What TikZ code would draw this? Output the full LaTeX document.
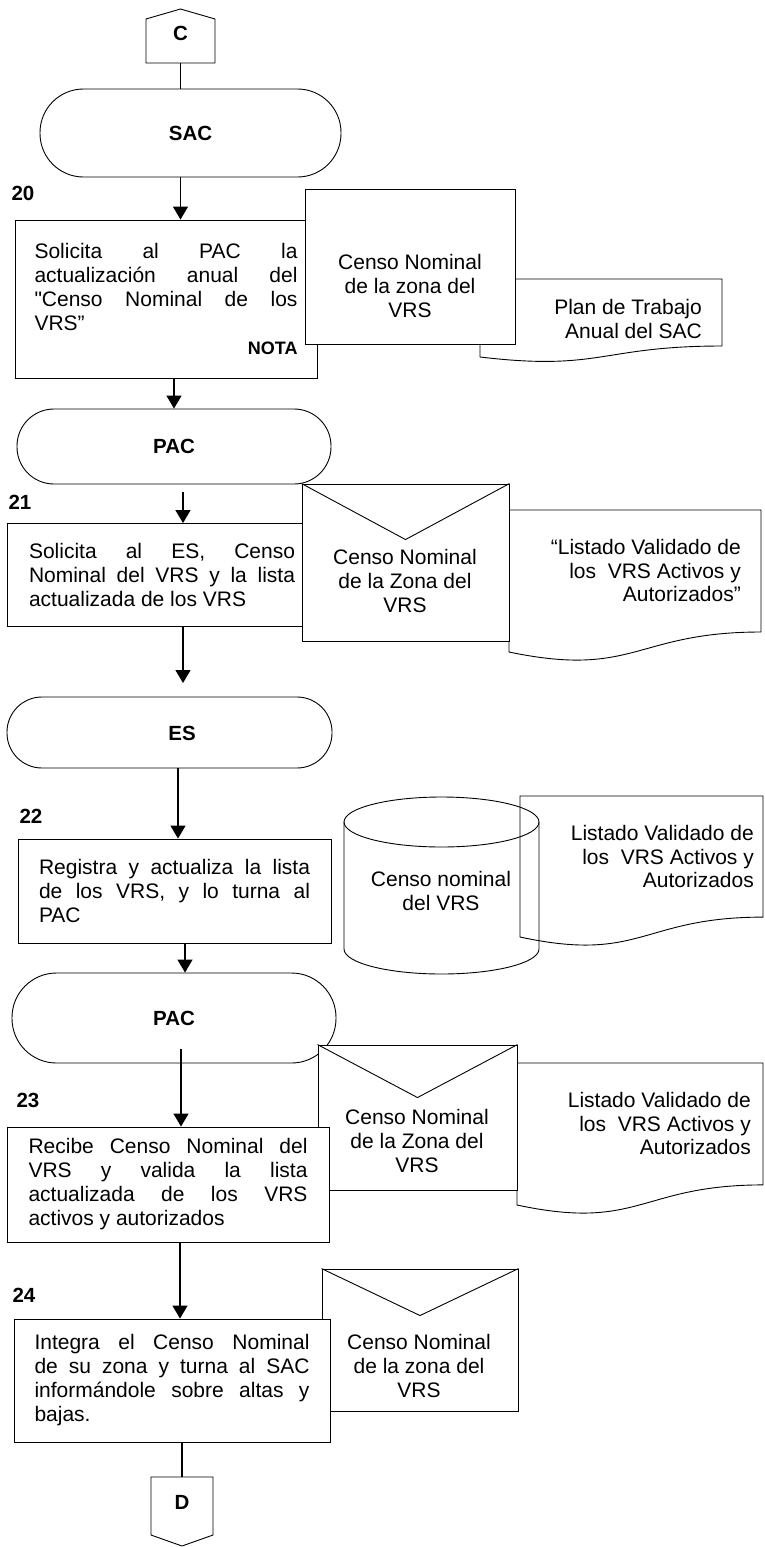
\documentclass[tikz,border=0pt]{standalone}
\usepackage{fontspec}
\setmainfont{Liberation Sans}[Ligatures=TeXOff]
\usetikzlibrary{arrows.meta}
% one justified line of a process box: spaces stretched to the given width
\newcommand\jline[2]{\makebox[#1][s]{#2}}

\begin{document}
\begin{tikzpicture}[x=1pt,y=-1pt,
  shape line/.style={draw=black, line width=0.9pt},
  body/.style={font=\fontsize{21}{24}\selectfont},
  tag/.style={font=\bfseries\fontsize{20.5}{24}\selectfont, inner sep=0pt},
  proc/.style={shape line, fill=white, rectangle, inner sep=0pt, align=left, body},
  term/.style={shape line, fill=white, rectangle, inner sep=0pt, font=\bfseries\fontsize{20.5}{24}\selectfont},
  boxonly/.style={shape line, fill=white, rectangle, inner sep=0pt},
  txt/.style={body, align=center, inner sep=0pt},
  rtxt/.style={font=\fontsize{21}{23.5}\selectfont, align=right, inner sep=0pt, anchor=east},
  flow/.style={line width=1.4pt, -{Triangle[length=13pt,width=15pt]}},
  link/.style={line width=1.4pt},
]
\useasboundingbox (0,0) rectangle (764,1547);

% ---------- off-page connector C ----------
\draw[shape line, fill=white] (146,63) -- (146,19) -- (180.5,9) -- (215,19) -- (215,63) -- cycle;
\node[tag, minimum width=69pt, minimum height=60pt] (C) at (180.5,33) {C};

% ---------- SAC ----------
\node[term, minimum width=301pt, minimum height=88pt, rounded corners=43.5pt] (SAC) at (190.5,133) {SAC};

% ---------- step 20 ----------
\node[tag] (n20) at (23,193) {20};
\draw[shape line, fill=white] (480,279) -- (722,279) -- (722,346)
  .. controls (601,346) and (601,371.4) .. (480,357) -- cycle;
\node[rtxt] (plan) at (702,319) {Plan de Trabajo\\Anual del SAC};
\node[proc, minimum width=302pt, minimum height=158pt] (b20) at (166,299)
  {\jline{263pt}{Solicita al PAC la}\\
   \jline{263pt}{actualización anual del}\\
   \jline{263pt}{"Censo Nominal de los}\\
   VRS”\\
   \makebox[263pt][r]{\bfseries\fontsize{18}{20}\selectfont NOTA}};
\node[boxonly, minimum width=210pt, minimum height=155pt] (cn1) at (410,266.5) {};
\node[txt] (cn1t) at (410,286) {Censo Nominal\\de la zona del\\VRS};

% ---------- PAC ----------
\node[term, minimum width=314pt, minimum height=75pt, rounded corners=37pt] (PAC1) at (174,446.5) {PAC};

% ---------- step 21 ----------
\node[tag] (n21) at (20,502) {21};
\node[proc, minimum width=310pt, minimum height=103pt] (b21) at (162,575)
  {\jline{266pt}{Solicita al ES, Censo}\\
   \jline{266pt}{Nominal del VRS y la lista}\\
   actualizada de los VRS};
\draw[shape line, fill=white] (509,510) -- (761,510) -- (761,632)
  .. controls (635,632) and (635,678.3) .. (509,652) -- cycle;
\node[rtxt] (l1t) at (741,570.5) {“Listado Validado de\\los\ \ VRS Activos y\\Autorizados”};
\node[boxonly, minimum width=207pt, minimum height=157pt] (env1) at (405.5,562.5) {};
\draw[shape line] (env1.north west) -- ([yshift=-56pt]env1.north) -- (env1.north east);
\node[txt] (env1t) at (405,581) {Censo Nominal\\de la Zona del\\VRS};

% ---------- ES ----------
\node[term, minimum width=325pt, minimum height=71pt, rounded corners=35pt] (ES) at (169.5,732.5) {};
\node[tag] (EStxt) at (182,733) {ES};

% ---------- step 22 ----------
\node[tag] (n22) at (31,816) {22};
\node[proc, minimum width=313pt, minimum height=104pt] (b22) at (174.5,891)
  {\jline{271pt}{Registra y actualiza la lista}\\
   \jline{271pt}{de los VRS, y lo turna al}\\
   PAC};
\draw[shape line] (344,822) -- (344,949)
  arc[start angle=180, end angle=360, x radius=97.5pt, y radius=25pt] -- (539,822);
\draw[shape line] (441.5,822) ellipse [x radius=97.5pt, y radius=25pt];
\node[txt] (cylt) at (441,891) {Censo nominal\\del VRS};
\draw[shape line] (520,796) -- (763,796) -- (763,917.1)
  .. controls (641.5,917.1) and (641.5,963.2) .. (520,937) -- cycle;
\node[rtxt] (l2t) at (754,856.5) {Listado Validado de\\los\ \ VRS Activos y\\Autorizados};

% ---------- PAC ----------
\node[term, minimum width=324pt, minimum height=90pt, rounded corners=44.5pt] (PAC2) at (174,1018) {PAC};

% ---------- step 23 ----------
\node[tag] (n23) at (28,1100) {23};
\draw[shape line, fill=white] (517,1063) -- (763,1063) -- (763,1184.9)
  .. controls (640,1184.9) and (640,1231.3) .. (517,1205) -- cycle;
\node[rtxt] (l3t) at (751,1123.5) {Listado Validado de\\los\ \ VRS Activos y\\Autorizados};
\node[boxonly, minimum width=199pt, minimum height=145pt] (env2) at (417.5,1117.5) {};
\draw[shape line] (env2.north west) -- ([yshift=-53pt]env2.north) -- (env2.north east);
\node[txt] (env2t) at (417,1141) {Censo Nominal\\de la Zona del\\VRS};
\node[proc, minimum width=322pt, minimum height=115pt] (b23) at (168,1184.5)
  {\jline{279pt}{Recibe Censo Nominal del}\\
   \jline{279pt}{VRS y valida la lista}\\
   \jline{279pt}{actualizada de los VRS}\\
   activos y autorizados};

% ---------- step 24 ----------
\node[tag] (n24) at (24,1295) {24};
\node[boxonly, minimum width=196pt, minimum height=142pt] (env3) at (420,1340) {};
\draw[shape line] (env3.north west) -- ([yshift=-47pt]env3.north) -- (env3.north east);
\node[txt] (env3t) at (419,1366) {Censo Nominal\\de la zona del\\VRS};
\node[proc, minimum width=316pt, minimum height=123pt] (b24) at (172,1380.5)
  {\jline{275pt}{Integra el Censo Nominal}\\
   \jline{275pt}{de su zona y turna al SAC}\\
   \jline{275pt}{informándole sobre altas y}\\
   bajas.};

% ---------- off-page connector D ----------
\draw[shape line, fill=white] (151,1477) -- (213,1477) -- (213,1535) -- (182,1546) -- (151,1535) -- cycle;
\node[tag, minimum width=62pt, minimum height=50pt] (D) at (182,1502) {D};

% ---------- connectors ----------
\coordinate (s21) at (183,492);
\coordinate (e21) at (183,683);
\coordinate (x22) at (178,0);
\coordinate (x23) at (185,0);
\coordinate (s23) at (181,1049);
\coordinate (x24) at (180,0);
\draw[link] (C.south) -- (C.south |- SAC.north);
\draw[flow] (SAC.south -| C.south) -- (b20.north -| C.south);
\draw[flow] (b20.south -| PAC1.north) -- (PAC1.north);
\draw[flow] (s21) -- (s21 |- b21.north);
\draw[flow] (b21.south -| e21) -- (e21);
\draw[flow] (ES.south -| x22) -- (b22.north -| x22);
\draw[flow] (b22.south -| x23) -- (PAC2.north -| x23);
\draw[flow] (s23) -- (s23 |- b23.north);
\draw[flow] (b23.south -| x24) -- (b24.north -| x24);
\draw[link] (b24.south -| D.north) -- (D.north);
\end{tikzpicture}
\end{document}
